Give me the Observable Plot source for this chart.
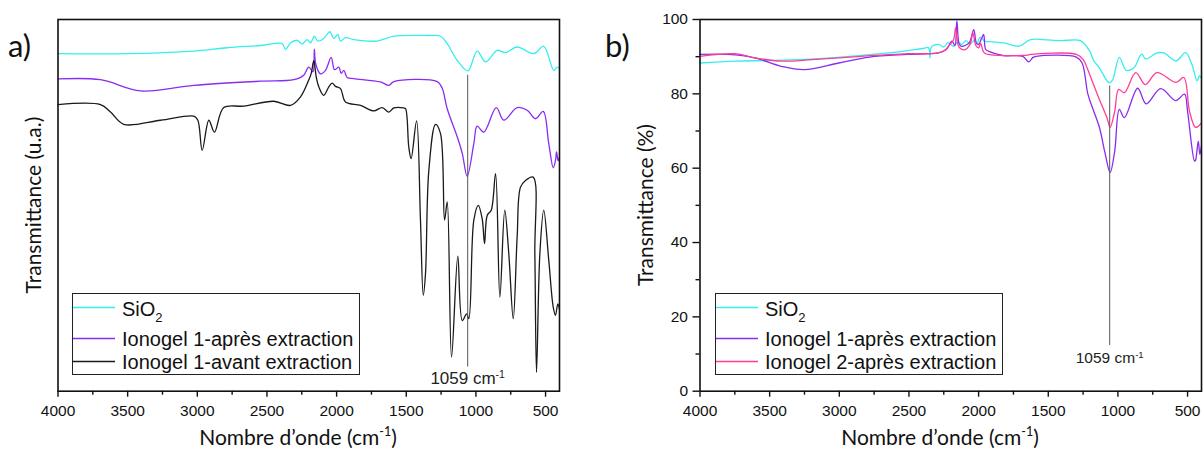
<!DOCTYPE html>
<html><head><meta charset="utf-8">
<script src="https://cdn.jsdelivr.net/npm/d3@7"></script>
<script src="https://cdn.jsdelivr.net/npm/@observablehq/plot@0.6"></script>
<style>
body{margin:0;background:#fff;}
#wrap{position:relative;width:1203px;height:450px;overflow:hidden;font-family:"Liberation Sans",Arial,sans-serif;color:#111;}
#wrap > svg{position:absolute;top:0;}
.title{position:absolute;font-family:Lato,sans-serif;font-size:21px;line-height:26px;white-space:nowrap;color:#111;}
.title sup{font-size:0.6em;vertical-align:0;position:relative;top:-0.75em;}
.ytitle{transform:translate(-50%,-50%) rotate(-90deg);}
.xtitle{transform:translateX(-50%);}
.panel{position:absolute;font-family:Lato,sans-serif;font-size:31px;line-height:36px;color:#111;}
.legend{position:absolute;border:1px solid #222;background:#fff;box-sizing:border-box;}
.legend svg.ln{position:absolute;left:0;top:0;}
.legend .tx{position:absolute;left:49px;font-size:20px;line-height:22px;white-space:nowrap;}
.legend .tx sub{font-size:0.65em;vertical-align:0;position:relative;top:0.45em;}
</style>
</head><body>
<div id="wrap"></div>
<script>
// ---------- data ----------
const seriesNames = ["SiO2", "Ionogel 1-après extraction", "Ionogel 1-avant extraction", "Ionogel 2-après extraction"];
const colors = {sio2: "#35eeee", iono1: "#8a2cf0", avant: "#1a1a1a", iono2: "#ff3d94"};

const xMajor = [4000, 3500, 3000, 2500, 2000, 1500, 1000, 500];
const xMinor = [3750, 3250, 2750, 2250, 1750, 1250, 750];
const yMajor = [0, 20, 40, 60, 80, 100];
const yMinor = [10, 30, 50, 70, 90];

// Panel a (arbitrary units, offset spectra)
const aSiO2_wn = [4000,3503,3025,2785,2546,2391,2367,2331,2283,2247,2211,2187,2159,2135,2092,2049,2020,1991,1972,1936,1876,1709,1589,1350,1254,1206,1134,1058,991,931,847,788,704,584,513,441,416,400];
const aSiO2_T  = [90.8,90.8,91.5,92.4,93.0,93.5,91.9,93.7,94.4,93.4,94.6,93.7,95.5,94.2,94.9,96.7,94.9,96.0,94.2,95.1,94.6,94.2,95.5,95.7,95.5,93.5,89.0,86.2,91.5,88.6,91.7,91.1,92.6,90.8,92.8,86.3,87.2,86.8];

const aIono1_wn = [4000,3695,3408,3025,2546,2307,2236,2200,2170,2160,2150,2116,2080,2039,2015,1984,1967,1948,1924,1876,1685,1625,1589,1278,1242,1206,1134,1098,1063,1015,991,943,854,800,704,632,572,517,477,445,429,421,410,400];
const aIono1_T  = [84.0,83.8,80.8,82.3,83.4,83.8,85.0,87.2,85.9,92.0,88.1,85.4,86.3,89.8,86.5,87.2,85.5,86.3,84.4,84.1,83.2,82.3,83.3,83.3,81.5,76.0,68.4,64.0,57.8,66.6,71.3,69.7,76.3,72.9,76.3,75.6,73.3,75.3,66.6,60.1,62.0,64.4,62.0,63.0];

const aAvant_wn = [4000,3695,3623,3528,3264,3025,2996,2965,2917,2877,2810,2666,2451,2331,2259,2200,2182,2164,2146,2128,2092,2056,2032,2008,1972,1936,1828,1733,1673,1625,1589,1518,1505,1482,1465,1426,1398,1378,1362,1338,1290,1254,1225,1206,1175,1130,1098,1067,1051,1015,983,955,938,919,890,859,828,793,764,732,704,680,644,589,577,565,541,513,477,445,429,412,400];
const aAvant_T  = [77.1,77.1,75.1,71.8,72.9,74.0,72.9,64.8,72.9,69.7,76.3,76.7,78.0,76.9,79.2,83.7,85.5,88.9,84.5,81.9,79.6,81.9,82.9,82.0,81.4,77.8,76.9,75.4,76.3,75.1,76.2,76.2,76.0,65.7,62.6,72.7,46.0,25.8,31.6,59.4,71.8,69.3,46.0,50.9,9.2,36.3,19.0,20.8,19.5,46.0,50.0,46.4,39.7,47.3,48.7,58.5,25.3,48.7,37.0,19.5,41.5,54.9,56.7,57.6,37.0,5.1,37.0,48.7,35.2,22.6,20.4,23.5,22.0];

// Panel b (Transmittance %)
const bSiO2_wn = [4000,3747,3472,3059,2646,2400,2360,2349,2340,2288,2250,2220,2178,2150,2123,2090,2060,2027,2010,1990,1958,1900,1821,1711,1690,1628,1500,1408,1270,1201,1175,1133,1064,1040,990,940,885,830,800,720,670,582,514,470,431,415,400];
const bSiO2_T  = [88.3,88.8,89.0,89.7,91.0,92.2,92.4,89.7,92.5,93.3,92.6,93.8,92.8,94.0,93.3,94.3,93.4,94.6,93.6,95.2,94.2,94.0,93.7,92.8,93.1,94.6,94.5,94.3,94.3,91.4,89.0,87.0,83.0,83.6,89.8,86.3,87.0,90.7,89.4,91.0,91.0,88.9,91.1,88.0,83.5,84.8,84.3];

const bIono1_wn = [4000,3802,3609,3417,3252,3004,2784,2508,2288,2230,2192,2170,2156,2140,2123,2068,2035,2015,2000,1980,1964,1950,1931,1821,1683,1640,1610,1587,1298,1257,1216,1180,1133,1092,1056,1023,990,954,858,797,693,585,522,500,450,443,423,412,400];
const bIono1_T  = [90.6,90.6,89.7,87.4,86.5,88.3,89.9,90.6,91.0,92.0,94.2,93.0,99.6,93.5,92.8,93.7,97.3,93.5,93.3,94.8,96.0,92.0,91.5,90.3,90.1,88.6,89.8,90.1,89.9,88.3,80.0,76.0,71.0,64.0,58.9,64.6,75.8,73.6,81.5,77.3,81.4,78.2,79.9,75.3,61.9,62.1,67.3,63.7,66.0];

const bIono2_wn = [4000,3747,3609,3417,3196,2921,2508,2288,2240,2206,2180,2165,2150,2137,2096,2060,2041,2020,2000,1985,1958,1821,1711,1650,1628,1298,1249,1216,1180,1133,1078,1056,1023,995,954,872,803,720,582,527,486,445,425,400];
const bIono2_T  = [90.1,90.8,89.7,88.8,89.2,89.9,90.8,91.0,91.8,93.3,94.5,97.8,93.5,92.4,91.9,93.5,96.4,93.0,92.4,93.5,91.0,90.3,90.3,90.4,90.6,90.6,89.2,86.5,83.0,78.5,73.5,71.0,75.3,81.2,80.3,85.7,82.5,85.7,83.1,84.4,75.3,71.0,71.2,72.2];

// annotation
const annoWn = 1059;
const annoA = {y1: 85, y2: 6.5, ty: 3.4};
const annoB = {y1: 82.1, y2: 12.3, ty: 8.8};

// ---------- helpers ----------
const rows = (wn, t) => wn.map((w, i) => ({wn: w, t: t[i]}));
const lineMark = (wn, t, color) => Plot.line(rows(wn, t), {x: "wn", y: "t", stroke: color, strokeWidth: 1.3, curve: "catmull-rom"});
const xAxes = () => [
  Plot.axisX({ticks: xMinor, tickSize: 4, tickFormat: () => "", label: null, strokeWidth: 1.4}),
  Plot.axisX({ticks: xMajor, tickSize: 6, tickPadding: 8, tickFormat: d => String(d), label: null, strokeWidth: 1.4, fontSize: 15.5})
];
const anno = (a, fs) => [
  Plot.ruleX([{x: annoWn, y1: a.y1, y2: a.y2}], {x: "x", y1: "y1", y2: "y2", stroke: "#555", strokeWidth: 1}),
  Plot.text([{x: annoWn, y: a.ty, t: "1059 cm"}], {x: "x", y: "y", text: "t", fontSize: fs, fill: "#222", className: "anno"})
];
const common = {
  height: 450, marginTop: 19, marginBottom: 59.3,
  x: {domain: [4000, 400]},
  y: {domain: [0, 100]},
  style: {fontFamily: "'Liberation Sans', Arial, sans-serif", fontSize: "15.5px", color: "#111", background: "transparent", overflow: "visible"}
};

const wrap = document.getElementById("wrap");

// Panel a
const plotA = Plot.plot({
  ...common,
  width: 600, marginLeft: 57.5, marginRight: 41,
  y: {domain: [0, 100], axis: null},
  marks: [
    lineMark(aSiO2_wn, aSiO2_T, colors.sio2),
    lineMark(aIono1_wn, aIono1_T, colors.iono1),
    lineMark(aAvant_wn, aAvant_T, colors.avant),
    ...anno(annoA, 17),
    ...xAxes(),
    Plot.frame({stroke: "#111", strokeWidth: 1.6})
  ]
});
plotA.style.left = "0px";
wrap.appendChild(plotA);

// Panel b
const plotB = Plot.plot({
  ...common,
  width: 603, marginLeft: 99.5, marginRight: 2,
  marks: [
    lineMark(bSiO2_wn, bSiO2_T, colors.sio2),
    lineMark(bIono1_wn, bIono1_T, colors.iono1),
    lineMark(bIono2_wn, bIono2_T, colors.iono2),
    ...anno(annoB, 15.5),
    ...xAxes(),
    Plot.axisY({ticks: yMinor, tickSize: 4, tickFormat: () => "", label: null, strokeWidth: 1.4}),
    Plot.axisY({ticks: yMajor, tickSize: 7, tickPadding: 5, tickFormat: d => String(d), label: null, strokeWidth: 1.4, fontSize: 15.5}),
    Plot.frame({stroke: "#111", strokeWidth: 1.6})
  ]
});
plotB.style.left = "600px";
wrap.appendChild(plotB);

// superscript on annotation labels
d3.selectAll("#wrap .anno text").append("tspan").attr("dy", "-0.55em").attr("font-size", "0.62em").text("-1");

// ---------- HTML text: titles, panel labels, legends ----------
function addDiv(cls, html, css) {
  const d = document.createElement("div");
  d.className = cls; d.innerHTML = html;
  Object.assign(d.style, css);
  wrap.appendChild(d);
  return d;
}
addDiv("panel", "a)", {left: "8px", top: "27px"});
addDiv("panel", "b)", {left: "605px", top: "27px"});
addDiv("title xtitle", "Nombre d’onde (cm<sup>-1</sup>)", {left: "298px", top: "424px"});
addDiv("title xtitle", "Nombre d’onde (cm<sup>-1</sup>)", {left: "940px", top: "424px"});
addDiv("title ytitle", "Transmittance (u.a.)", {left: "33px", top: "205px"});
addDiv("title ytitle", "Transmittance (%)", {left: "645px", top: "205px"});

const legendA = [["SiO<sub>2</sub>", colors.sio2], ["Ionogel 1-après extraction", colors.iono1], ["Ionogel 1-avant extraction", colors.avant]];
const legendB = [["SiO<sub>2</sub>", colors.sio2], ["Ionogel 1-après extraction", colors.iono1], ["Ionogel 2-après extraction", colors.iono2]];
const rowLine = [13.5, 44.5, 67.5];
const rowText = [15, 45, 68];
function legend(items, left) {
  const L = addDiv("legend", "", {left: left + "px", top: "293px", width: "287.5px", height: "82px"});
  const s = d3.select(L).append("svg").attr("class", "ln").attr("width", 45).attr("height", 80);
  items.forEach(([label, c], i) => {
    s.append("line").attr("x1", 0).attr("x2", 42).attr("y1", rowLine[i]).attr("y2", rowLine[i])
      .attr("stroke", c).attr("stroke-width", 1.3);
    const tx = document.createElement("div"); tx.className = "tx";
    tx.style.top = (rowText[i] - 11) + "px"; tx.innerHTML = label; L.appendChild(tx);
  });
}
legend(legendA, 72);
legend(legendB, 715);
</script>
</body></html>
